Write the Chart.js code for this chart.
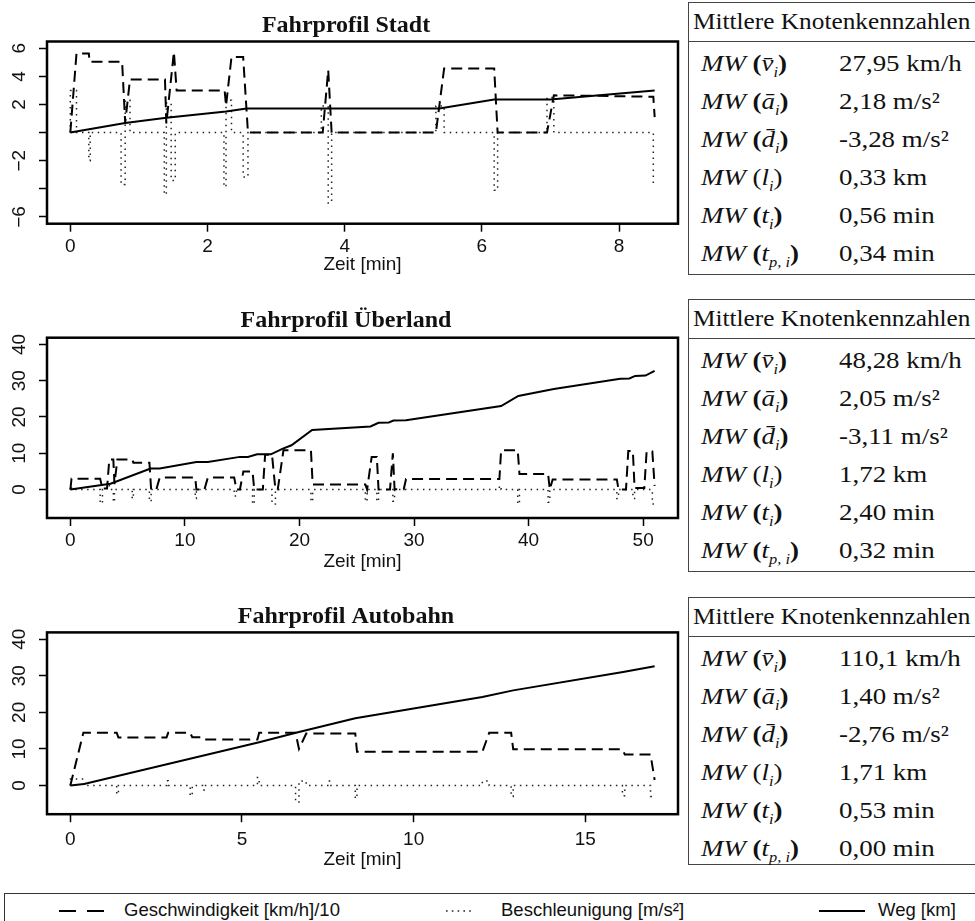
<!DOCTYPE html>
<html>
<head>
<meta charset="utf-8">
<script src="https://cdn.jsdelivr.net/npm/chart.js@4.4.1/dist/chart.umd.min.js"></script>
<style>
  body { margin: 0; width: 975px; height: 921px; overflow: hidden; background: #fff; position: relative; }
  canvas.plot { position: absolute; left: 0; }
  .tab { position: absolute; left: 688px; width: 300px; height: 271px; border: 1px solid #444; font-family: "Liberation Serif", serif; color: #111; }
  .tab .kopf { position: absolute; left: 0; top: 0; width: 100%; height: 38px; border-bottom: 1px solid #444; font-size: 23px; line-height: 38px; }
  .tab .kopf span { position: absolute; left: 4px; transform: scaleX(1.1); transform-origin: left center; white-space: nowrap; }
  .tab .zeile { position: absolute; left: 0; width: 100%; height: 38px; line-height: 38px; font-size: 23px; }
  .tab .sym, .tab .wert { position: absolute; transform: scaleX(1.17); transform-origin: left center; white-space: nowrap; }
  .tab .sym { left: 12px; }
  .tab .wert { left: 150px; }
  .tab sub { font-size: 14px; }
  #legende { position: absolute; left: 4px; top: 893px; width: 990px; height: 40px; border: 1px solid #333; font-family: "Liberation Sans", sans-serif; font-size: 18.5px; color: #111; }
  #legende svg, #legende span { position: absolute; }
  #legende span { top: 5px; }
</style>
</head>
<body>
<canvas class="plot" id="stadt" width="685" height="280" style="top:0px"></canvas>
<canvas class="plot" id="ueberland" width="685" height="290" style="top:290px"></canvas>
<canvas class="plot" id="autobahn" width="685" height="290" style="top:590px"></canvas>
<div id="legende">
  <svg style="left:54px;top:0" width="50" height="34"><line x1="0" y1="17" x2="46" y2="17" stroke="#000" stroke-width="2" stroke-dasharray="17,11"/></svg>
  <span style="left:119px">Geschwindigkeit [km/h]/10</span>
  <svg style="left:441px;top:0" width="30" height="34"><line x1="0" y1="17" x2="28" y2="17" stroke="#222" stroke-width="1.6" stroke-dasharray="1.6,4.2"/></svg>
  <span style="left:496px">Beschleunigung [m/s²]</span>
  <svg style="left:814px;top:0" width="50" height="34"><line x1="0" y1="17" x2="46" y2="17" stroke="#000" stroke-width="2.2"/></svg>
  <span style="left:873px">Weg [km]</span>
</div>
<script>
// Fahrprofil Stadt: [Zeit min, Wert]
const stadtGeschw = [[0,0],[0.09,5.63],[0.27,5.63],[0.28,5.04],[0.755,5.04],[0.80,0.7],[0.87,3.78],[1.38,3.78],[1.40,0.65],[1.51,5.74],[1.55,3.0],[2.25,3.0],[2.27,1.9],[2.35,5.38],[2.52,5.38],[2.59,0],[3.68,0],[3.76,4.44],[3.81,0],[5.33,0],[5.45,4.56],[6.18,4.56],[6.23,0],[6.95,0],[7.05,2.65],[7.6,2.62],[8.5,2.55],[8.52,1.1]];
const stadtBeschl = [[0,0],[0,3.0],[0.09,3.0],[0.09,0],[0.27,0],[0.27,-2.0],[0.29,-2.0],[0.29,0],[0.74,0],[0.74,-3.7],[0.80,-3.7],[0.80,2.3],[0.87,2.3],[0.87,0],[1.37,0],[1.37,-4.4],[1.40,-4.4],[1.40,2.1],[1.47,2.1],[1.47,-3.4],[1.53,-3.4],[1.53,0],[2.24,0],[2.24,-3.85],[2.27,-3.85],[2.27,2.3],[2.35,2.3],[2.35,0],[2.52,0],[2.52,-3.15],[2.59,-3.15],[2.59,0],[3.66,0],[3.66,1.9],[3.76,1.9],[3.76,-5.0],[3.81,-5.0],[3.81,0],[5.33,0],[5.33,1.9],[5.45,1.9],[5.45,0],[6.18,0],[6.18,-4.1],[6.23,-4.1],[6.23,0],[6.95,0],[6.95,2.5],[7.05,2.5],[7.05,0],[8.5,0],[8.5,-3.6],[8.52,-3.6]];
const stadtWeg = [[0,0],[0.80,0.68],[1.40,1.05],[2.27,1.50],[2.57,1.72],[5.38,1.72],[6.18,2.35],[7.0,2.35],[8.52,3.0]];
const stadtZeitTicks = [0, 2, 4, 6, 8];
const stadtWertTicks = [-6, -4, -2, 0, 2, 4, 6];
const stadtWertLabels = ['−6', '', '−2', '', '2', '4', '6'];

// Fahrprofil Überland
const landGeschw = [[0,0],[0.1,3.0],[2.6,3.0],[2.8,0.3],[3.2,0.3],[3.4,8.3],[3.75,8.3],[3.85,1.5],[4.1,8.3],[5.4,8.3],[5.5,7.4],[6.9,7.4],[7.05,0],[7.5,0],[7.8,3.3],[10.9,3.3],[11.0,0],[11.7,0],[12.0,3.3],[14.3,3.3],[14.5,0],[14.8,0],[15.1,5.0],[15.9,5.0],[16.05,0],[16.8,0],[17.0,9.6],[17.6,9.6],[17.9,0],[18.1,0],[18.6,10.8],[21.0,10.8],[21.15,1.4],[25.75,1.4],[25.9,0],[26.3,9.0],[26.75,9.0],[26.9,0],[27.9,0],[28.15,10.0],[28.3,0.1],[29.1,0.1],[29.3,2.9],[37.45,2.9],[37.6,10.8],[39.05,10.8],[39.2,4.3],[41.7,4.3],[41.85,0],[42.1,2.8],[47.7,2.8],[47.85,0],[48.5,0],[48.7,10.6],[49.1,10.6],[49.25,0.4],[50.1,0.4],[50.3,10.5],[50.8,10.5],[51.0,1.0]];
const landBeschl = [[0,0],[0,1.0],[0.1,1.0],[0.1,0],[2.6,0],[2.6,-3.8],[2.8,-3.8],[2.8,0],[3.2,0],[3.2,1.2],[3.4,1.2],[3.4,0],[3.75,0],[3.75,-3.5],[3.85,-3.5],[3.85,0],[5.4,0],[5.4,-2.5],[5.5,-2.5],[5.5,0],[6.9,0],[6.9,-3.3],[7.05,-3.3],[7.05,0],[10.9,0],[10.9,-2.5],[11.0,-2.5],[11.0,0],[14.3,0],[14.3,-1.8],[14.5,-1.8],[14.5,0],[15.9,0],[15.9,-4.0],[16.05,-4.0],[16.05,0],[17.6,0],[17.6,-4.0],[17.9,-4.0],[17.9,0],[21.0,0],[21.0,-3.3],[21.15,-3.3],[21.15,0],[25.75,0],[25.75,-3.3],[25.9,-3.3],[25.9,0],[26.75,0],[26.75,-3.3],[26.9,-3.3],[26.9,0],[28.15,0],[28.15,-3.2],[28.3,-3.2],[28.3,0],[37.45,0],[37.45,1.0],[37.6,1.0],[37.6,0],[39.05,0],[39.05,-4.0],[39.2,-4.0],[39.2,0],[41.7,0],[41.7,-3.5],[41.85,-3.5],[41.85,0],[47.7,0],[47.7,-2.5],[47.85,-2.5],[47.85,0],[49.1,0],[49.1,-2.5],[49.25,-2.5],[49.25,0],[50.8,0],[50.8,-4.0],[51.0,-4.0]];
const landWeg = [[0,0],[3.5,1.6],[7.0,5.8],[7.8,5.8],[11.0,7.6],[12.0,7.6],[14.8,9.0],[15.5,9.0],[16.3,9.7],[17.5,9.7],[18.5,11.2],[19.3,12.2],[21.1,16.4],[26.2,17.4],[26.9,18.4],[27.8,18.5],[28.2,19.0],[29.3,19.1],[37.6,23.0],[39.1,25.8],[42.2,27.7],[48.0,30.5],[48.8,30.6],[49.3,31.3],[50.2,31.4],[51.0,32.7]];
const landZeitTicks = [0, 10, 20, 30, 40, 50];
const landWertTicks = [0, 10, 20, 30, 40];
const landWertLabels = ['0', '10', '20', '30', '40'];

// Fahrprofil Autobahn
const bahnGeschw = [[0,0],[0.38,14.45],[1.35,14.45],[1.4,13.1],[2.8,13.1],[2.85,14.4],[3.49,14.4],[3.55,13.2],[3.85,13.2],[3.9,12.6],[5.45,12.6],[5.5,14.4],[6.56,14.4],[6.66,10.0],[6.87,14.2],[8.3,14.2],[8.35,9.2],[12.0,9.2],[12.2,14.4],[12.84,14.4],[12.9,9.9],[16.08,9.9],[16.15,8.5],[16.9,8.5],[17.02,1.5]];
const bahnBeschl = [[0,0],[0,1.8],[0.38,1.8],[0.38,0],[1.35,0],[1.35,-2.4],[1.4,-2.4],[1.4,0],[2.8,0],[2.8,1.3],[2.85,1.3],[2.85,0],[3.49,0],[3.49,-2.8],[3.55,-2.8],[3.55,0],[3.85,0],[3.85,-1.2],[3.9,-1.2],[3.9,0],[5.45,0],[5.45,2.2],[5.5,2.2],[5.5,0],[6.56,0],[6.56,-4.5],[6.66,-4.5],[6.66,1.2],[6.87,1.2],[6.87,0],[7.5,0],[7.5,1.2],[7.55,1.2],[7.55,0],[8.3,0],[8.3,-3.5],[8.35,-3.5],[8.35,0],[12.0,0],[12.0,1.2],[12.2,1.2],[12.2,0],[12.84,0],[12.84,-3.0],[12.9,-3.0],[12.9,0],[16.08,0],[16.08,-2.8],[16.15,-2.8],[16.15,0],[16.9,0],[16.9,-3.0],[17.02,-3.0]];
const bahnWeg = [[0,0],[0.4,0.4],[5.5,11.8],[6.6,14.5],[8.3,18.4],[12.0,24.2],[12.9,26.0],[16.1,31.0],[17.02,32.6]];
const bahnZeitTicks = [0, 5, 10, 15];
const bahnWertTicks = [0, 10, 20, 30, 40];
const bahnWertLabels = ['0', '10', '20', '30', '40'];

// Tabellen
const knotenGroessen = ['v\u0304', 'a\u0304', 'd\u0304', 'l', 't', 't'];
const knotenIndex = ['i', 'i', 'i', 'i', 'i', 'p, i'];
const knotenFett = [true, true, true, false, true, true];
const stadtKennzahlen = ['27,95 km/h', '2,18 m/s²', '-3,28 m/s²', '0,33 km', '0,56 min', '0,34 min'];
const landKennzahlen = ['48,28 km/h', '2,05 m/s²', '-3,11 m/s²', '1,72 km', '2,40 min', '0,32 min'];
const bahnKennzahlen = ['110,1 km/h', '1,40 m/s²', '-2,76 m/s²', '1,71 km', '0,53 min', '0,00 min'];

function linie(paare, dash, breite, farbe) {
    return {
        data: paare.map(p => ({ x: p[0], y: p[1] })),
        borderColor: farbe,
        borderWidth: breite,
        borderDash: dash,
        pointRadius: 0,
        tension: 0,
        fill: false
    };
}

// Rahmen, Titel und gedrehte Achsenbeschriftung wie in R
function deko(titel, titelY, tickY, zeitY, wertLabels) {
    return {
        id: 'deko',
        afterDraw(chart) {
            const { ctx, chartArea: a, scales: { x, y } } = chart;
            ctx.save();
            ctx.strokeStyle = '#000';
            ctx.lineWidth = 2.5;
            ctx.strokeRect(a.left, a.top, a.right - a.left, a.bottom - a.top);
            ctx.fillStyle = '#111';
            ctx.textAlign = 'center';
            ctx.font = 'bold 24px "Liberation Serif"';
            ctx.textBaseline = 'alphabetic';
            ctx.fillText(titel, 346, titelY);
            ctx.font = '19px "Liberation Sans"';
            ctx.textBaseline = 'middle';
            x.ticks.forEach(t => ctx.fillText(String(t.value), x.getPixelForValue(t.value), tickY));
            ctx.fillText('Zeit [min]', (a.left + a.right) / 2, zeitY);
            y.ticks.forEach((t, i) => {
                if (!wertLabels[i]) return;
                ctx.save();
                ctx.translate(20, y.getPixelForValue(t.value));
                ctx.rotate(-Math.PI / 2);
                ctx.fillText(wertLabels[i], 0, 0);
                ctx.restore();
            });
            ctx.restore();
        }
    };
}

function zeichne(id, geschw, beschl, weg, cfg) {
    const ctx = document.getElementById(id).getContext('2d');
    return new Chart(ctx, {
        type: 'line',
        data: {
            datasets: [
                linie(weg, [], 2, '#000'),
                linie(geschw, [11, 6], 2, '#000'),
                linie(beschl, [1.5, 4.5], 1.5, '#222')
            ]
        },
        options: {
            responsive: false,
            animation: false,
            devicePixelRatio: 1,
            layout: { autoPadding: false, padding: { left: 0, right: 7, top: cfg.oben, bottom: 0 } },
            plugins: { legend: { display: false }, tooltip: { enabled: false } },
            scales: {
                x: {
                    type: 'linear',
                    min: cfg.xMin, max: cfg.xMax,
                    afterBuildTicks: s => { s.ticks = cfg.xTicks.map(v => ({ value: v })); },
                    afterFit: s => { s.height = cfg.xHoehe; },
                    ticks: { display: false },
                    border: { display: false },
                    grid: { drawOnChartArea: false, drawTicks: true, tickLength: 8, tickColor: '#000', tickWidth: 1.5 }
                },
                y: {
                    type: 'linear',
                    min: cfg.yMin, max: cfg.yMax,
                    afterBuildTicks: s => { s.ticks = cfg.yTicks.map(v => ({ value: v })); },
                    afterFit: s => { s.width = 47; },
                    ticks: { display: false },
                    border: { display: false },
                    grid: { drawOnChartArea: false, drawTicks: true, tickLength: 8, tickColor: '#000', tickWidth: 1.5 }
                }
            }
        },
        plugins: [deko(cfg.titel, cfg.titelY, cfg.tickY, cfg.zeitY, cfg.labels)]
    });
}

zeichne('stadt', stadtGeschw, stadtBeschl, stadtWeg, {
    titel: 'Fahrprofil Stadt', titelY: 32, tickY: 247, zeitY: 265,
    oben: 41.5, xHoehe: 280 - 223.7,
    xMin: -0.34, xMax: 8.86, xTicks: stadtZeitTicks,
    yMin: -6.48, yMax: 6.48, yTicks: stadtWertTicks, labels: stadtWertLabels
});
zeichne('ueberland', landGeschw, landBeschl, landWeg, {
    titel: 'Fahrprofil Überland', titelY: 37, tickY: 251, zeitY: 272,
    oben: 47.7, xHoehe: 290 - 228,
    xMin: -2.04, xMax: 53.04, xTicks: landZeitTicks,
    yMin: -7.84, yMax: 41.84, yTicks: landWertTicks, labels: landWertLabels
});
zeichne('autobahn', bahnGeschw, bahnBeschl, bahnWeg, {
    titel: 'Fahrprofil Autobahn', titelY: 33, tickY: 250, zeitY: 270,
    oben: 42.4, xHoehe: 290 - 224.2,
    xMin: -0.68, xMax: 17.7, xTicks: bahnZeitTicks,
    yMin: -7.84, yMax: 41.84, yTicks: bahnWertTicks, labels: bahnWertLabels
});

function baueTabelle(oben, hoehe, werte) {
    const t = document.createElement('div');
    t.className = 'tab';
    t.style.top = oben + 'px';
    t.style.height = hoehe + 'px';
    let html = '<div class="kopf"><span>Mittlere Knotenkennzahlen</span></div>';
    werte.forEach((w, i) => {
        const auf = knotenFett[i] ? '<b>(</b>' : '(';
        const zu = knotenFett[i] ? '<b>)</b>' : ')';
        html += '<div class="zeile" style="top:' + (42 + 38 * i) + 'px">' +
            '<span class="sym"><i>MW</i> ' + auf + '<i>' + knotenGroessen[i] + '</i><sub><i>' + knotenIndex[i] + '</i></sub>' + zu + '</span>' +
            '<span class="wert">' + w + '</span></div>';
    });
    t.innerHTML = html;
    document.body.appendChild(t);
}
baueTabelle(2, 271, stadtKennzahlen);
baueTabelle(299, 271, landKennzahlen);
baueTabelle(597, 266, bahnKennzahlen);
</script>
</body>
</html>
